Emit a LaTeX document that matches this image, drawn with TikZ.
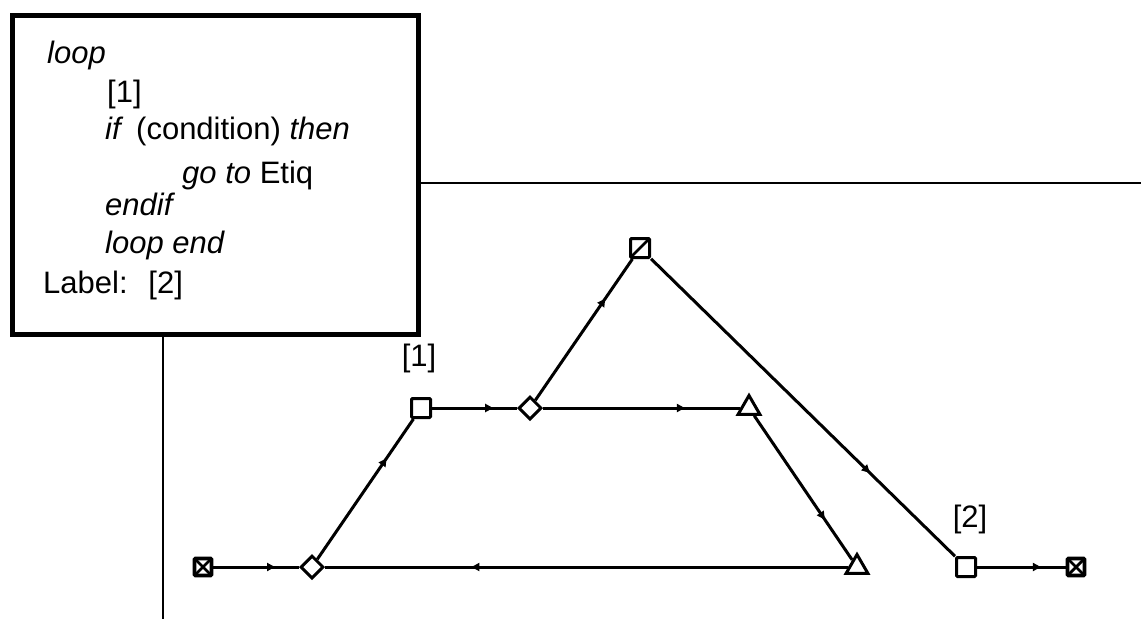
\documentclass[tikz,border=0pt]{standalone}
\usepackage{fontspec}
\setmainfont{Liberation Sans}
\usetikzlibrary{shapes.geometric,decorations.markings,arrows.meta}
\begin{document}
\begin{tikzpicture}[x=1pt,y=-1pt,
  txt/.style={anchor=base west,inner sep=0pt,font=\fontsize{31}{36}\selectfont},
  sq/.style={draw,rectangle,rounded corners=1pt,minimum size=19pt,inner sep=0pt,line width=3pt,fill=white},
  xsq/.style={sq,line width=3.6pt,minimum size=17pt,path picture={\draw[line width=2.8pt] (path picture bounding box.south west)--(path picture bounding box.north east) (path picture bounding box.north west)--(path picture bounding box.south east);}},
  slsq/.style={sq,path picture={\draw[line width=2.8pt] (path picture bounding box.south west)--(path picture bounding box.north east);}},
  dia/.style={draw,diamond,minimum width=23pt,minimum height=23pt,inner sep=0pt,line width=3pt,fill=white},
  tri/.style={draw,regular polygon,regular polygon sides=3,minimum size=25pt,inner sep=0pt,line width=3pt,fill=white},
  edge/.style={line width=3pt,postaction={decorate},decoration={markings,mark=at position 0.72 with {\arrow{Triangle[length=8pt,width=8pt]}}}},
  thin/.style={line width=2.4pt}
]
\useasboundingbox (0,0) rectangle (1141,619);
% code box and lines
\coordinate (vtop) at (163,331);
\coordinate (vbot) at (163,619);
\coordinate (hl) at (417,183);
\coordinate (hr) at (1141,183);
\draw[thin] (vtop) -- (vbot);
\draw[thin] (hl) -- (hr);
\node[draw,line width=5pt,rectangle,minimum width=406pt,minimum height=319pt,anchor=north west,inner sep=0pt,fill=white] (box) at (9.5,12.5) {};
\node[txt] (l1) at (47,63) {\itshape loop};
\node[txt] (l2) at (107,102) {[1]};
\node[txt] (l3) at (105,139) {\itshape if\hspace{0.5em}\upshape (condition) \itshape then};
\node[txt] (l4) at (182,183) {\itshape go to \upshape Etiq};
\node[txt] (l5) at (105,215) {\itshape endif};
\node[txt] (l6) at (105,253) {\itshape loop end};
\node[txt] (l7) at (43,293) {Label:\hspace{0.3em} [2]};
% graph nodes
\node[xsq] (s) at (203,567) {};
\node[dia] (d1) at (312,567) {};
\node[sq] (q1) at (421,408) {};
\node[dia] (d2) at (530,408) {};
\node[tri] (t1) at (749,408) {};
\node[tri] (t2) at (857,567) {};
\node[slsq] (q2) at (640,248) {};
\node[sq] (q3) at (966,567) {};
\node[xsq] (e) at (1076,567) {};
\node[txt,anchor=center] (lab1) at (419,358) {[1]};
\node[txt,anchor=center] (lab2) at (970,519) {[2]};
% edges
\draw[edge] (s) -- (d1);
\draw[edge] (d1) -- (q1);
\draw[edge] (q1) -- (d2);
\draw[edge] (d2) -- (q2);
\draw[edge] (d2) -- (t1);
\draw[edge] (t1) -- (t2);
\draw[edge] (t2) -- (d1);
\draw[edge] (q2) -- (q3);
\draw[edge] (q3) -- (e);
\end{tikzpicture}
\end{document}
